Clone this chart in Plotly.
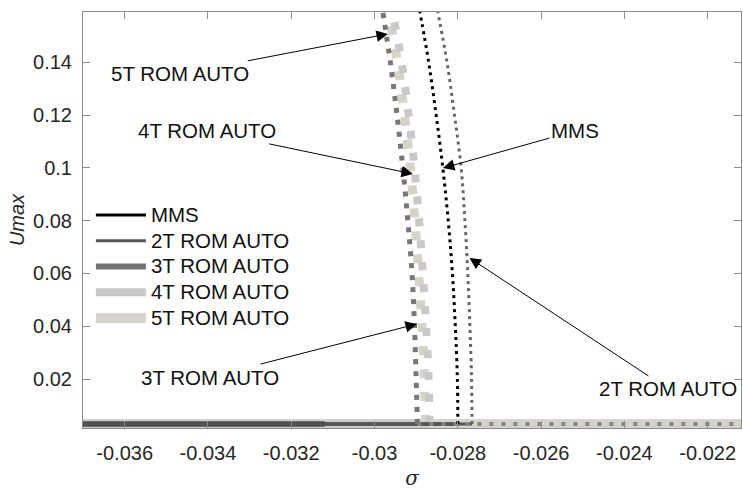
import plotly.graph_objects as go

# ---- data ----
U_levels = [0.003, 0.02, 0.04, 0.06, 0.08, 0.10, 0.12, 0.14, 0.159]
sigma_mms = [-0.02800, -0.02801, -0.02806, -0.02813, -0.02823, -0.02836, -0.02852, -0.02870, -0.02891]
sigma_2t = [-0.02766, -0.02767, -0.02771, -0.02776, -0.02783, -0.02792, -0.02808, -0.02826, -0.02848]
sigma_3t = [-0.02897, -0.02900, -0.02904, -0.02910, -0.02920, -0.02932, -0.02946, -0.02962, -0.02980]
sigma_4t = [-0.02868, -0.02870, -0.02876, -0.02884, -0.02893, -0.02904, -0.02918, -0.02935, -0.02957]
sigma_5t = [-0.02878, -0.02880, -0.02886, -0.02894, -0.02903, -0.02914, -0.02928, -0.02945, -0.02966]

U_trivial = 0.003
sigma_left = -0.0370
sigma_right = -0.0212
stable_end = {"MMS": -0.02800, "2T": -0.02766, "3T": -0.03120, "4T": -0.02868, "5T": -0.0212}
unstable_start_3t = -0.02897

x_tickvals = [-0.036, -0.034, -0.032, -0.030, -0.028, -0.026, -0.024, -0.022]
x_ticktext = ["-0.036", "-0.034", "-0.032", "-0.03", "-0.028", "-0.026", "-0.024", "-0.022"]
y_tickvals = [0.02, 0.04, 0.06, 0.08, 0.10, 0.12, 0.14]
y_ticktext = ["0.02", "0.04", "0.06", "0.08", "0.1", "0.12", "0.14"]

ann_text = ["5T ROM AUTO", "4T ROM AUTO", "MMS", "3T ROM AUTO", "2T ROM AUTO"]
ann_tip_sigma = [-0.029677, -0.029077, -0.028357, -0.028981, -0.02772]
ann_tip_u = [0.1507, 0.0977, 0.0999, 0.0409, 0.0659]
ann_txt_sigma = [-0.034671, -0.034023, -0.025187, -0.033951, -0.022950]
ann_txt_u = [0.1356, 0.1140, 0.1140, 0.0208, 0.0163]

# ---- styles ----
FONT = "Liberation Sans, Arial, sans-serif"
col = {"MMS": "#000000", "2T": "#555555", "3T": "#737373", "4T": "#c9c9c9", "5T": "#d6d3cb"}
wid = {"MMS": 3, "2T": 3, "3T": 6, "4T": 8, "5T": 10}
names = {"MMS": "MMS", "2T": "2T ROM AUTO", "3T": "3T ROM AUTO", "4T": "4T ROM AUTO", "5T": "5T ROM AUTO"}
rank = {"MMS": 1, "2T": 2, "3T": 3, "4T": 4, "5T": 5}

fig = go.Figure()

def horiz(key, x0, x1, dash="solid", color=None, width=None, legend=True):
    fig.add_trace(go.Scatter(
        x=[x0, x1], y=[U_trivial, U_trivial], mode="lines",
        line=dict(color=color or col[key], width=width or wid[key], dash=dash),
        name='<span style="font-size:20.5px">' + names[key] + '</span>',
        showlegend=legend, legendrank=rank[key], hoverinfo="skip"))

def vert(key, sig, color, width, dash):
    fig.add_trace(go.Scatter(
        x=sig, y=U_levels, mode="lines",
        line=dict(color=color, width=width, dash=dash, shape="spline"),
        name=names[key], showlegend=False, hoverinfo="skip"))

# trivial branches (stable, solid) -- these carry the legend
horiz("5T", sigma_left, stable_end["5T"])
horiz("4T", sigma_left, stable_end["4T"])
vert("5T", sigma_5t, "#d6d3cb", 9, "9px,14px")
vert("4T", sigma_4t, "#c9c9c9", 8, "8px,14px")
horiz("3T", sigma_left, stable_end["3T"])
horiz("MMS", sigma_left, stable_end["MMS"])
horiz("2T", sigma_left, stable_end["2T"])
# unstable trivial branch (dotted)
horiz("3T", unstable_start_3t, sigma_right, dash="4px,8px", color="#858585", width=4, legend=False)
# bifurcated branches (dotted)
vert("3T", sigma_3t, "#777777", 5, "5px,7px")
vert("2T", sigma_2t, "#666666", 3, "3px,4px")
vert("MMS", sigma_mms, "#000000", 3, "3px,4px")

for t, xs, ys, xt, yt in zip(ann_text, ann_tip_sigma, ann_tip_u, ann_txt_sigma, ann_txt_u):
    fig.add_annotation(x=xs, y=ys, ax=xt, ay=yt, axref="x", ayref="y", xref="x", yref="y",
                       text=t, showarrow=True, arrowhead=2, arrowsize=2.3, arrowwidth=1,
                       arrowcolor="#000000", font=dict(family=FONT, size=20.5, color="#111111"))

axis_common = dict(showline=True, linecolor="#8c8c8c", linewidth=1, mirror="ticks",
                   ticks="inside", ticklen=7, tickcolor="#8c8c8c", showgrid=False, zeroline=False,
                   tickfont=dict(family=FONT, size=20, color="#262626"))

fig.update_xaxes(range=[sigma_left, sigma_right], tickmode="array", tickvals=x_tickvals,
                 ticktext=x_ticktext, ticklabelstandoff=7,
                 title=dict(text="σ", font=dict(family="DejaVu Serif", size=20, style="italic", color="#262626"), standoff=8),
                 **axis_common)
fig.update_yaxes(range=[0.0015, 0.159], tickmode="array", tickvals=y_tickvals,
                 ticktext=y_ticktext, ticklabelstandoff=6,
                 title=dict(text="Umax", font=dict(family=FONT, size=20, style="italic", color="#262626"), standoff=3),
                 **axis_common)

fig.update_layout(
    width=743, height=490, margin=dict(l=83, r=2, t=12, b=62),
    plot_bgcolor="white", paper_bgcolor="white",
    legend=dict(x=0.012, y=0.555, xanchor="left", yanchor="top", bgcolor="rgba(0,0,0,0)",
                font=dict(family=FONT, size=17.5, color="#111111"), itemwidth=50,
                tracegroupgap=0),
    showlegend=True,
)

fig.write_html("out.html")
